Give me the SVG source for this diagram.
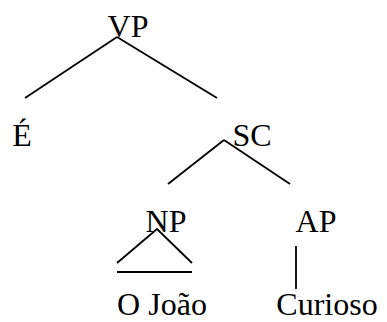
<svg xmlns="http://www.w3.org/2000/svg" width="387" height="322" viewBox="0 0 387 322">
  <style>
    text { font-family: 'Liberation Serif', 'Times New Roman', serif; font-size: 32px; fill: #000; text-anchor: middle; }
    .edge { stroke: #000; stroke-width: 1.8; fill: none; }
  </style>
  <rect width="387" height="322" fill="#fff"/>
  <g id="connectors">
    <line class="edge" x1="117" y1="37" x2="25" y2="98"/>
    <line class="edge" x1="117" y1="37" x2="217" y2="98"/>
    <line class="edge" x1="224" y1="140" x2="168" y2="184"/>
    <line class="edge" x1="224" y1="140" x2="290" y2="184"/>
    <polyline class="edge" points="117,263 157,229 192,263"/>
    <line class="edge" x1="117" y1="272" x2="192" y2="272"/>
    <line class="edge" x1="296" y1="246" x2="296" y2="289"/>
  </g>
  <g id="node-vp"><text x="128" y="37">VP</text></g>
  <g id="node-e"><text x="22" y="146">É</text></g>
  <g id="node-sc"><text x="252" y="146">SC</text></g>
  <g id="node-np"><text x="166" y="232">NP</text></g>
  <g id="node-ap"><text x="316" y="232">AP</text></g>
  <g id="node-joao"><text x="162" y="315">O João</text></g>
  <g id="node-curioso"><text x="327" y="315">Curioso</text></g>
</svg>
